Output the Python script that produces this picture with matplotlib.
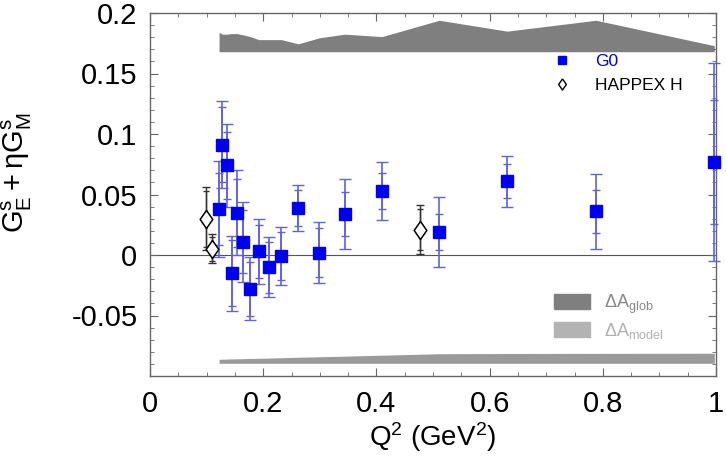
import matplotlib
matplotlib.use('Agg')
import matplotlib.pyplot as plt
from matplotlib.lines import Line2D
from matplotlib.patches import Patch
from matplotlib.ticker import MultipleLocator, FuncFormatter

plt.rcParams['font.family'] = ['Liberation Sans', 'DejaVu Sans']
plt.rcParams['mathtext.fontset'] = 'custom'
plt.rcParams['mathtext.rm'] = 'Liberation Sans'
plt.rcParams['mathtext.it'] = 'Liberation Sans:italic'

# G0 forward-angle points
g0_q2 = [0.122, 0.128, 0.136, 0.144, 0.153, 0.164, 0.177, 0.192, 0.210,
         0.232, 0.262, 0.299, 0.344, 0.410, 0.511, 0.631, 0.788, 0.997]
g0_val = [0.038, 0.091, 0.074, -0.015, 0.035, 0.011, -0.028, 0.003, -0.010,
          -0.001, 0.039, 0.002, 0.034, 0.053, 0.019, 0.061, 0.036, 0.077]
g0_tot = [0.040, 0.036, 0.034, 0.031, 0.035, 0.033, 0.026, 0.027, 0.025,
          0.024, 0.019, 0.025, 0.029, 0.024, 0.029, 0.021, 0.031, 0.082]
g0_stat = [0.030, 0.031, 0.028, 0.027, 0.028, 0.026, 0.022, 0.022, 0.021,
           0.020, 0.015, 0.020, 0.018, 0.015, 0.015, 0.014, 0.018, 0.051]

# systematic bands (heights) at the G0 points
glob_err = [0.016, 0.0145, 0.0145, 0.015, 0.015, 0.014, 0.0125, 0.010, 0.010,
            0.010, 0.0065, 0.0115, 0.0145, 0.0125, 0.026, 0.017, 0.026, 0.005]
model_err = [0.0033, 0.0034, 0.0035, 0.0036, 0.0037, 0.0038, 0.0040, 0.0041, 0.0043,
             0.0046, 0.0050, 0.0054, 0.0059, 0.0067, 0.0079, 0.0081, 0.0082, 0.0083]

# HAPPEX hydrogen
hap_q2 = [0.099, 0.109, 0.477]
hap_val = [0.030, 0.005, 0.021]
hap_tot = [0.026, 0.012, 0.020]
hap_stat = [0.023, 0.010, 0.017]

xticks = [0, 0.2, 0.4, 0.6, 0.8, 1.0]
yticks = [-0.05, 0, 0.05, 0.1, 0.15, 0.2]

blue = '#0000ee'
barblue = '#6262e0'
diamond = [(0, 1), (0.7, 0), (0, -1), (-0.7, 0), (0, 1)]

fig = plt.figure(figsize=(7.26, 4.66), dpi=100)
ax = fig.add_axes([150 / 726, 1 - 376 / 466, 566 / 726, 363 / 466])

glob_base = 0.168
model_base = -0.0895
ax.fill_between(g0_q2, glob_base, [glob_base + e for e in glob_err],
                color='#7f7f7f', lw=0)
ax.fill_between(g0_q2, model_base, [model_base + e for e in model_err],
                color='#9a9a9a', lw=0)

ax.axhline(0, color='#555555', lw=0.8, zorder=1)


def unclip(container):
    for art in container.get_children():
        art.set_clip_on(False)


unclip(ax.errorbar(g0_q2, g0_val, yerr=g0_tot, fmt='none', ecolor=barblue,
                   elinewidth=1.2, capsize=4, capthick=1.0, zorder=2))
unclip(ax.errorbar(g0_q2, g0_val, yerr=g0_stat, fmt='none', ecolor=barblue,
                   elinewidth=1.2, capsize=3, capthick=1.0, zorder=2))
ax.plot(g0_q2, g0_val, 's', color=blue, ms=9, mec=blue, zorder=3, clip_on=False)

unclip(ax.errorbar(hap_q2, hap_val, yerr=hap_tot, fmt='none', ecolor='#333333',
                   elinewidth=1.0, capsize=3, capthick=1.0, zorder=2))
unclip(ax.errorbar(hap_q2, hap_val, yerr=hap_stat, fmt='none', ecolor='#333333',
                   elinewidth=1.0, capsize=2.5, capthick=1.0, zorder=2))
ax.plot(hap_q2, hap_val, marker=diamond, ls='none', ms=13, mfc='white',
        mec='black', mew=1.1, zorder=3)

ax.set_xlim(0, 1.0)
ax.set_ylim(-0.1, 0.2)
ax.set_xticks(xticks)
ax.set_yticks(yticks)
ax.xaxis.set_minor_locator(MultipleLocator(0.05))
ax.yaxis.set_minor_locator(MultipleLocator(0.01))
fmt = FuncFormatter(lambda v, p: '%g' % round(v, 3))
ax.xaxis.set_major_formatter(fmt)
ax.yaxis.set_major_formatter(fmt)
ax.tick_params(which='both', direction='in', top=True, right=True,
               color='#666666', labelsize=21)
ax.tick_params(which='major', length=6)
ax.tick_params(which='minor', length=3)
ax.tick_params(axis='x', pad=10)
ax.tick_params(axis='y', pad=9)
for s in ax.spines.values():
    s.set_color('#666666')
    s.set_linewidth(1.0)

ax.set_xlabel(r'$\mathregular{Q^2\ (GeV^2)}$', fontsize=20, labelpad=2)
ax.set_ylabel(r'$\mathregular{G_E^s + \eta G_M^s}$', fontsize=21)
ax.yaxis.set_label_coords(-0.205, 0.56)

h1 = [Line2D([], [], marker='s', ls='none', color=blue, ms=6),
      Line2D([], [], marker=diamond, ls='none', mfc='white', mec='black', ms=8)]
leg1 = ax.legend(h1, ['G0', 'HAPPEX H'], loc='upper left',
                 bbox_to_anchor=(0.695, 0.912), frameon=False, fontsize=12.5,
                 handlelength=1.2, handletextpad=1.3, labelspacing=0.5,
                 borderpad=0)
leg1.get_texts()[0].set_color(blue)
ax.add_artist(leg1)

h2 = [Patch(color='#7f7f7f'), Patch(color='#b3b3b3')]
leg2 = ax.legend(h2, [r'$\mathregular{\Delta A_{glob}}$', r'$\mathregular{\Delta A_{model}}$'],
                 loc='upper left', bbox_to_anchor=(0.697, 0.255), frameon=False,
                 fontsize=13, handlelength=2.0, handleheight=0.9,
                 handletextpad=0.8, labelspacing=0.3, borderpad=0)
leg2.get_texts()[0].set_color('#888888')
leg2.get_texts()[1].set_color('#b0b0b0')

fig.savefig('out.png', dpi=100)
